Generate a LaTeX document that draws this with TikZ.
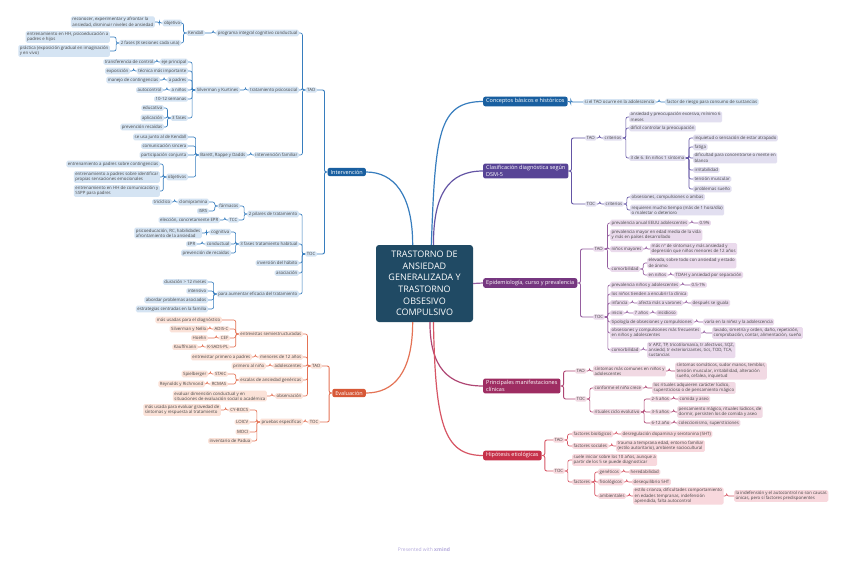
\documentclass[tikz,border=0pt]{standalone}
\usepackage{fontspec}
\setmainfont{Open Sans}
\usepackage{tikz}
\usetikzlibrary{positioning}
\definecolor{rootc}{RGB}{32,74,100}
\definecolor{blueM}{RGB}{25,95,160}
\definecolor{blueL}{RGB}{213,228,243}
\definecolor{blueE}{RGB}{55,125,190}
\definecolor{orgM}{RGB}{215,88,55}
\definecolor{orgL}{RGB}{251,226,216}
\definecolor{orgE}{RGB}{228,115,85}
\definecolor{purM}{RGB}{88,68,150}
\definecolor{purL}{RGB}{226,223,240}
\definecolor{purE}{RGB}{100,85,165}
\definecolor{magM}{RGB}{118,55,128}
\definecolor{magL}{RGB}{234,218,236}
\definecolor{magE}{RGB}{150,95,160}
\definecolor{pinkM}{RGB}{158,45,98}
\definecolor{pinkL}{RGB}{241,217,227}
\definecolor{pinkE}{RGB}{175,70,115}
\definecolor{redM}{RGB}{198,48,72}
\definecolor{redL}{RGB}{248,216,221}
\definecolor{redE}{RGB}{215,85,100}
\definecolor{txtc}{RGB}{70,70,70}
\definecolor{brandc}{RGB}{180,170,220}
\newcommand{\subfnt}{\fontsize{4.35}{5.3}\selectfont}
\newcommand{\topfnt}{\fontsize{5.5}{6.6}\selectfont}
\newcommand{\rootfnt}{\fontsize{9}{11.6}\selectfont}

\begin{document}
\begin{tikzpicture}[
  x=1pt, y=-1pt,
  root/.style={rectangle, rounded corners=3pt, fill=rootc, text=white, font=\rootfnt, align=center, minimum width=97pt, minimum height=77pt, inner sep=0pt},
  topic/.style={rectangle, rounded corners=2pt, fill=#1, text=white, font=\topfnt, align=left, inner xsep=3pt, inner ysep=2pt},
  sub/.style={rectangle, rounded corners=1.5pt, fill=#1, text=txtc, font=\subfnt, align=left, inner xsep=1.5pt, inner ysep=1.1pt},
  bl/.style={sub=blueL, anchor=east},
  ol/.style={sub=orgL, anchor=east},
  br/.style={sub=blueL, anchor=west},
  pr/.style={sub=purL, anchor=west},
  mr/.style={sub=magL, anchor=west},
  kr/.style={sub=pinkL, anchor=west},
  rr/.style={sub=redL, anchor=west},
  lk/.style={draw=#1, line width=0.65pt, rounded corners=2pt},
  mainlk/.style={draw=#1, line width=1.2pt},
  toleft/.style={to path={-- ++(-3,0) |- (\tikztotarget)}},
  toright/.style={to path={-- ++(3,0) |- (\tikztotarget)}}
]
\fill[white] (0,0) rectangle (848,560);
\useasboundingbox (0,0) rectangle (848,560);

% central topic
\node[root] (root) at (424.5,283.5) {TRASTORNO DE\\ANSIEDAD\\GENERALIZADA Y\\TRASTORNO\\OBSESIVO\\COMPULSIVO};

% main topics
\node[topic=blueM, anchor=east] (interv) at (366,172) {Intervención};
\node[topic=orgM, anchor=east] (evalu) at (366,393) {Evaluación};
\node[topic=blueM, anchor=west] (concep) at (483,101.5) {Conceptos básicos e históricos};
\node[topic=purM, anchor=west] (clasi) at (483,171) {Clasificación diagnóstica según\\DSM-5};
\node[topic=magM, anchor=west] (epid) at (483,283) {Epidemiología, curso y prevalencia};
\node[topic=pinkM, anchor=west] (manif) at (483,386) {Principales manifestaciones\\clínicas};
\node[topic=redM, anchor=west] (hipo) at (483,455.5) {Hipótesis etiológicas};

% Intervencion - TAO
\node[bl] (itao) at (317,90) {TAO};
\node[bl] (prog) at (299,33) {programa integral cognitivo conductual};
\node[bl] (kendall) at (205,33) {Kendall};
\node[bl] (kobj) at (182,23) {objetivo};
\node[bl] (kreco) at (155,22) {reconocer, experimentar y afrontar la\\ansiedad, disminuir niveles de ansiedad};
\node[bl] (kfas) at (181,43) {2 fases (8 sesiones cada una)};
\node[bl] (kfas1) at (110,37) {entrenamiento en HH, psicoeducación a\\padres e hijos};
\node[bl] (kfas2) at (110,51) {práctica (exposición gradual en imaginación\\y en vivo)};
\node[bl] (psico) at (299,90) {tratamiento psicosocial};
\node[bl] (silv) at (240,90) {Silverman y Kurtines};
\node[bl] (eje) at (188,62) {eje principal};
\node[bl] (transf) at (155,62) {transferencia de control};
\node[bl] (tecn) at (188,71) {técnica más importante};
\node[bl] (expo) at (130,71) {exposición};
\node[bl] (apad) at (188,80) {a padres};
\node[bl] (manejo) at (160,80) {manejo de contingencias};
\node[bl] (anin) at (188,90) {a niños};
\node[bl] (autoc) at (163,90) {autocontrol};
\node[bl] (sem) at (188,99) {10-12 semanas};
\node[bl] (sfas) at (188,118) {3 fases};
\node[bl] (educ) at (164,108) {educativa};
\node[bl] (aplic) at (164,118) {aplicación};
\node[bl] (prevr) at (164,127) {prevención recaídas};
\node[bl] (famil) at (299,155) {intervención familiar};
\node[bl] (barett) at (247,155) {Barett, Rappe y Dadds};
\node[bl] (junto) at (188,137) {se usa junto al de Kendall};
\node[bl] (comun) at (188,146) {comunicación sincera};
\node[bl] (partic) at (188,155) {participación conjunta};
\node[bl] (bobj) at (188,177) {objetivos};
\node[bl] (bobj1) at (160,164) {entrenamiento a padres sobre contingencias};
\node[bl] (bobj2) at (160,177) {entrenamiento a padres sobre identificar\\propias sensaciones emocionales};
\node[bl] (bobj3) at (160,191) {entrenamiento en HH de comunicación y\\SSPP para padres};

% Intervencion - TOC
\node[bl] (itoc) at (317,254) {TOC};
\node[bl] (pilar) at (299,214) {2 pilares de tratamiento};
\node[bl] (farm) at (240,206) {fármacos};
\node[bl] (clomi) at (209,202) {clomipramina};
\node[bl] (tric) at (172,202) {tricíclico};
\node[bl] (isrs) at (209,211) {ISRS};
\node[bl] (tcc) at (239,220) {TCC};
\node[bl] (elec) at (220,220) {elección, concretamente EPR};
\node[bl] (tfas) at (299,244) {3 fases tratamiento habitual};
\node[bl] (cogn) at (231,232) {cognitiva};
\node[bl] (psied) at (202,233) {psicoeducación, RC, habilidades\\afrontamiento de la ansiedad};
\node[bl] (cond) at (231,244) {conductual};
\node[bl] (epr) at (197,244) {EPR};
\node[bl] (prevd) at (231,253) {prevención de recaídas};
\node[bl] (invh) at (299,263) {inversión del hábito};
\node[bl] (asoc) at (299,273) {asociación};
\node[bl] (aumen) at (299,294) {para aumentar eficacia del tratamiento};
\node[bl] (durac) at (208,282) {duración > 12 meses};
\node[bl] (inten) at (208,291) {intensivo};
\node[bl] (abord) at (208,300) {abordar problemas asociados};
\node[bl] (estra) at (208,309) {estrategias centradas en la familia};

% Evaluacion
\node[ol] (etao) at (322,366) {TAO};
\node[ol] (entre) at (303,334) {entrevistas semiestructuradas};
\node[ol] (musad) at (222,320) {más usadas para el diagnóstico};
\node[ol] (adis) at (230,329) {ADIS-C};
\node[ol] (snello) at (208,329) {Silverman y Nello};
\node[ol] (cef) at (230,338) {CEF};
\node[ol] (hoehn) at (208,338) {Hoehn};
\node[ol] (ksads) at (230,347) {K-SADS-PL};
\node[ol] (kauff) at (198,347) {Kauffmann};
\node[ol] (menor) at (303,357) {menores de 12 años};
\node[ol] (epadr) at (252,357) {entrevistar primero a padres};
\node[ol] (adole) at (303,366) {adolescentes};
\node[ol] (pnino) at (266,366) {primero al niño};
\node[ol] (escal) at (303,380) {escalas de ansiedad genéricas};
\node[ol] (staic) at (228,374) {STAIC};
\node[ol] (spiel) at (208,374) {Spielberger};
\node[ol] (rcmas) at (228,384) {RCMAS};
\node[ol] (reyn) at (205,384) {Reynolds y Richmond};
\node[ol] (obser) at (303,396) {observación};
\node[ol] (edim) at (267,396) {evaluar dimensión conductual y en\\situaciones de evaluación social o académica};
\node[ol] (etoc) at (320,422) {TOC};
\node[ol] (prues) at (303,422) {pruebas específicas};
\node[ol] (cybocs) at (250,410) {CY-BOCS};
\node[ol] (musda) at (221,410) {más usada para evaluar gravedad de\\síntomas y respuesta al tratamiento};
\node[ol] (loicv) at (250,422) {LOICV};
\node[ol] (moci) at (250,432) {MOCI};
\node[ol] (padua) at (252,441) {inventario de Padua};

% Conceptos
\node[br] (cadol) at (583,102) {si el TAO ocurre en la adolescencia};
\node[br] (cries) at (665,102) {factor de riesgo para consumo de sustancias};

% Clasificacion
\node[pr] (ctao) at (585,138) {TAO};
\node[pr] (ccrit) at (603,138) {criterios};
\node[pr] (cans) at (629,117) {ansiedad y preocupación excesiva, mínimo 6\\meses};
\node[pr] (cdif) at (629,128) {difícil controlar la preocupación};
\node[pr] (c36) at (629,158) {3 de 6. En niños 1 síntoma};
\node[pr] (s1) at (693,138) {inquietud o sensación de estar atrapado};
\node[pr] (s2) at (693,147) {fatiga};
\node[pr] (s3) at (693,158) {dificultad para concentrarse o mente en\\blanco};
\node[pr] (s4) at (693,170) {irritabilidad};
\node[pr] (s5) at (693,179) {tensión muscular};
\node[pr] (s6) at (693,189) {problemas sueño};
\node[pr] (ctoc) at (585,204) {TOC};
\node[pr] (ccrit2) at (604,204) {criterios};
\node[pr] (cobs) at (630,197) {obsesiones, compulsiones o ambas};
\node[pr] (creq) at (630,210) {requieren mucho tiempo (más de 1 hora/día)\\o malestar o deterioro};

% Epidemiologia
\node[mr] (ptao) at (593,249) {TAO};
\node[mr] (panual) at (610,223) {prevalencia anual EEUU adolescentes};
\node[mr] (p09) at (698,223) {0.9\%};
\node[mr] (pmayor) at (610,235) {prevalencia mayor en edad media de la vida\\y más en países desarrollado};
\node[mr] (pnmay) at (610,249) {niños mayores};
\node[mr] (pmasn) at (650,249) {más nº de síntomas y más ansiedad y\\depresión que niños menores de 12 años};
\node[mr] (pcomo) at (610,269) {comorbilidad};
\node[mr] (pelev) at (647,263) {elevada, sobre todo con ansiedad y estado\\de ánimo};
\node[mr] (penn) at (647,275) {en niños};
\node[mr] (ptdah) at (674,275) {TDAH y ansiedad por separación};
\node[mr] (ptoc) at (593,317) {TOC};
\node[mr] (qprev) at (610,285) {prevalencia niños y adolescentes};
\node[mr] (q051) at (690,285) {0.5-1\%};
\node[mr] (qencu) at (610,294) {los niños tienden a encubrir la clínica};
\node[mr] (qinf) at (610,303) {infancia};
\node[mr] (qvar) at (637,303) {afecta más a varones};
\node[mr] (qigu) at (691,303) {después se iguala};
\node[mr] (qini) at (610,313) {inicio};
\node[mr] (q7) at (633,313) {7 años};
\node[mr] (qins) at (656,313) {insidioso};
\node[mr] (qtipo) at (610,322) {tipología de obsesiones y compulsiones};
\node[mr] (qvaria) at (703,322) {varía en la niñez y la adolescencia};
\node[mr] (qobs) at (610,333) {obsesiones y compulsiones más frecuentes\\en niños y adolescentes};
\node[mr] (qlav) at (712,333) {lavado, simetría y orden, daño, repetición,\\comprobación, contar, alimentación, sueño};
\node[mr] (qcomo) at (610,350) {comorbilidad};
\node[mr] (qtr) at (647,350) {tr APZ, TP, tricotilomanía, tr afectivos, SQZ,\\ansiedd, tr exteriorizantes, tics, TOD, TCA,\\sustancias};

% Principales manifestaciones
\node[kr] (mtao) at (575,371) {TAO};
\node[kr] (msint) at (593,371) {síntomas más comunes en niños y\\adolescentes};
\node[kr] (msoma) at (675,371) {síntomas somáticos, sudor manos, temblor,\\tensión muscular, irritabilidad, alteración\\sueño, cefalea, inquietud};
\node[kr] (mtoc) at (575,399) {TOC};
\node[kr] (mcrec) at (593,388) {conforme el niño crece};
\node[kr] (mludi) at (652,388) {los rituales adquieren carácter lúdico,\\supersticioso o de pensamiento mágico};
\node[kr] (mritu) at (593,412) {rituales ciclo evolutivo};
\node[kr] (m25) at (650,399) {2-5 años};
\node[kr] (mcomi) at (678,399) {comida y aseo};
\node[kr] (m35) at (650,412) {3-5 años};
\node[kr] (mpens) at (677,412) {pensamiento mágico, rituales lúdicos, de\\dormir, persisten los de comida y aseo};
\node[kr] (m612) at (650,423) {6-12 año};
\node[kr] (mcole) at (677,423) {coleccionismo, supersticiones};

% Hipotesis
\node[rr] (htao) at (553,440) {TAO};
\node[rr] (hbio) at (572,434) {factores biológicos};
\node[rr] (hdesr) at (621,434) {desregulación dopamina y serotonina (5HT)};
\node[rr] (hsoc) at (572,446) {factores sociales};
\node[rr] (htrau) at (616,446) {trauma a temprana edad, entorno familiar\\(estilo autoritario), ambiente sociocultural};
\node[rr] (htoc) at (553,471) {TOC};
\node[rr] (hsuel) at (572,460) {suele iniciar sobre los 10 años, aunque a\\partir de los 5 se puede diagnosticar};
\node[rr] (hfact) at (572,482) {factores};
\node[rr] (hgen) at (598,472) {genéticos};
\node[rr] (hhere) at (629,472) {heredabilidad};
\node[rr] (hfis) at (598,482) {fisiológicos};
\node[rr] (hdese) at (632,482) {desequilibrio 5HT};
\node[rr] (hamb) at (598,496) {ambientales};
\node[rr] (hest) at (633,496) {estilo crianza, dificultades comportamiento\\en edades tempranas, indefensión\\aprendida, falta autocontrol};
\node[rr] (hinde) at (734,496) {la indefensión y el autocontrol no son causas\\únicas, pero sí factores predisponentes};

\node[font=\fontsize{5}{6}\selectfont, text=brandc] (brand) at (424,550) {Presented with \textbf{xmind}};

% branches from the central topic
\draw[mainlk=blueE] (root.107) .. controls +(0,-50) and +(28,0) .. (interv.east);
\draw[mainlk=orgE] (root.253) .. controls +(0,50) and +(28,0) .. (evalu.east);
\draw[mainlk=blueE] (root.80) .. controls +(4,-110) and +(-45,0) .. (concep.west);
\draw[mainlk=purE] (root.77) .. controls +(0,-50) and +(-35,0) .. (clasi.west);
\draw[mainlk=magE] (root.east) -- (epid.west);
\draw[mainlk=pinkE] (root.278) .. controls +(0,45) and +(-35,0) .. (manif.west);
\draw[mainlk=redE] (root.283) .. controls +(2,100) and +(-40,0) .. (hipo.west);

% Intervencion links
\draw[lk=blueE, line width=0.9pt] (interv.west) to[toleft] (itao.east);
\draw[lk=blueE, line width=0.9pt] (interv.west) to[toleft] (itoc.east);
\foreach \c in {prog,psico,famil} \draw[lk=blueE] (itao.west) to[toleft] (\c.east);
\draw[lk=blueE] (prog.west) to[toleft] (kendall.east);
\foreach \c in {kobj,kfas} \draw[lk=blueE] (kendall.west) to[toleft] (\c.east);
\draw[lk=blueE] (kobj.west) to[toleft] (kreco.east);
\foreach \c in {kfas1,kfas2} \draw[lk=blueE] (kfas.west) to[toleft] (\c.east);
\draw[lk=blueE] (psico.west) to[toleft] (silv.east);
\foreach \c in {eje,tecn,apad,anin,sem,sfas} \draw[lk=blueE] (silv.west) to[toleft] (\c.east);
\draw[lk=blueE] (eje.west) to[toleft] (transf.east);
\draw[lk=blueE] (tecn.west) to[toleft] (expo.east);
\draw[lk=blueE] (apad.west) to[toleft] (manejo.east);
\draw[lk=blueE] (anin.west) to[toleft] (autoc.east);
\foreach \c in {educ,aplic,prevr} \draw[lk=blueE] (sfas.west) to[toleft] (\c.east);
\draw[lk=blueE] (famil.west) to[toleft] (barett.east);
\foreach \c in {junto,comun,partic,bobj} \draw[lk=blueE] (barett.west) to[toleft] (\c.east);
\foreach \c in {bobj1,bobj2,bobj3} \draw[lk=blueE] (bobj.west) to[toleft] (\c.east);
\foreach \c in {pilar,tfas,invh,asoc,aumen} \draw[lk=blueE] (itoc.west) to[toleft] (\c.east);
\foreach \c in {farm,tcc} \draw[lk=blueE] (pilar.west) to[toleft] (\c.east);
\foreach \c in {clomi,isrs} \draw[lk=blueE] (farm.west) to[toleft] (\c.east);
\draw[lk=blueE] (clomi.west) to[toleft] (tric.east);
\draw[lk=blueE] (tcc.west) to[toleft] (elec.east);
\foreach \c in {cogn,cond,prevd} \draw[lk=blueE] (tfas.west) to[toleft] (\c.east);
\draw[lk=blueE] (cogn.west) to[toleft] (psied.east);
\draw[lk=blueE] (cond.west) to[toleft] (epr.east);
\foreach \c in {durac,inten,abord,estra} \draw[lk=blueE] (aumen.west) to[toleft] (\c.east);

% Evaluacion links
\draw[lk=orgE, line width=0.9pt] (evalu.west) to[toleft] (etao.east);
\draw[lk=orgE, line width=0.9pt] (evalu.west) to[toleft] (etoc.east);
\foreach \c in {entre,menor,adole,escal,obser} \draw[lk=orgE] (etao.west) to[toleft] (\c.east);
\foreach \c in {musad,adis,cef,ksads} \draw[lk=orgE] (entre.west) to[toleft] (\c.east);
\draw[lk=orgE] (adis.west) to[toleft] (snello.east);
\draw[lk=orgE] (cef.west) to[toleft] (hoehn.east);
\draw[lk=orgE] (ksads.west) to[toleft] (kauff.east);
\draw[lk=orgE] (menor.west) to[toleft] (epadr.east);
\draw[lk=orgE] (adole.west) to[toleft] (pnino.east);
\foreach \c in {staic,rcmas} \draw[lk=orgE] (escal.west) to[toleft] (\c.east);
\draw[lk=orgE] (staic.west) to[toleft] (spiel.east);
\draw[lk=orgE] (rcmas.west) to[toleft] (reyn.east);
\draw[lk=orgE] (obser.west) to[toleft] (edim.east);
\draw[lk=orgE] (etoc.west) to[toleft] (prues.east);
\foreach \c in {cybocs,loicv,moci,padua} \draw[lk=orgE] (prues.west) to[toleft] (\c.east);
\draw[lk=orgE] (cybocs.west) to[toleft] (musda.east);

% Conceptos links
\draw[lk=blueE, line width=0.9pt] (concep.east) to[toright] (cadol.west);
\draw[lk=blueE] (cadol.east) to[toright] (cries.west);

% Clasificacion links
\draw[lk=purE, line width=0.9pt] (clasi.east) to[toright] (ctao.west);
\draw[lk=purE, line width=0.9pt] (clasi.east) to[toright] (ctoc.west);
\draw[lk=purE] (ctao.east) to[toright] (ccrit.west);
\foreach \c in {cans,cdif,c36} \draw[lk=purE] (ccrit.east) to[toright] (\c.west);
\foreach \c in {s1,s2,s3,s4,s5,s6} \draw[lk=purE] (c36.east) to[toright] (\c.west);
\draw[lk=purE] (ctoc.east) to[toright] (ccrit2.west);
\foreach \c in {cobs,creq} \draw[lk=purE] (ccrit2.east) to[toright] (\c.west);

% Epidemiologia links
\draw[lk=magE, line width=0.9pt] (epid.east) to[toright] (ptao.west);
\draw[lk=magE, line width=0.9pt] (epid.east) to[toright] (ptoc.west);
\foreach \c in {panual,pmayor,pnmay,pcomo} \draw[lk=magE] (ptao.east) to[toright] (\c.west);
\draw[lk=magE] (panual.east) to[toright] (p09.west);
\draw[lk=magE] (pnmay.east) to[toright] (pmasn.west);
\foreach \c in {pelev,penn} \draw[lk=magE] (pcomo.east) to[toright] (\c.west);
\draw[lk=magE] (penn.east) to[toright] (ptdah.west);
\foreach \c in {qprev,qencu,qinf,qini,qtipo,qobs,qcomo} \draw[lk=magE] (ptoc.east) to[toright] (\c.west);
\draw[lk=magE] (qprev.east) to[toright] (q051.west);
\draw[lk=magE] (qinf.east) to[toright] (qvar.west);
\draw[lk=magE] (qvar.east) to[toright] (qigu.west);
\draw[lk=magE] (qini.east) to[toright] (q7.west);
\draw[lk=magE] (q7.east) to[toright] (qins.west);
\draw[lk=magE] (qtipo.east) to[toright] (qvaria.west);
\draw[lk=magE] (qobs.east) to[toright] (qlav.west);
\draw[lk=magE] (qcomo.east) to[toright] (qtr.west);

% Principales manifestaciones links
\draw[lk=pinkE, line width=0.9pt] (manif.east) to[toright] (mtao.west);
\draw[lk=pinkE, line width=0.9pt] (manif.east) to[toright] (mtoc.west);
\draw[lk=pinkE] (mtao.east) to[toright] (msint.west);
\draw[lk=pinkE] (msint.east) to[toright] (msoma.west);
\foreach \c in {mcrec,mritu} \draw[lk=pinkE] (mtoc.east) to[toright] (\c.west);
\draw[lk=pinkE] (mcrec.east) to[toright] (mludi.west);
\foreach \c in {m25,m35,m612} \draw[lk=pinkE] (mritu.east) to[toright] (\c.west);
\draw[lk=pinkE] (m25.east) to[toright] (mcomi.west);
\draw[lk=pinkE] (m35.east) to[toright] (mpens.west);
\draw[lk=pinkE] (m612.east) to[toright] (mcole.west);

% Hipotesis links
\draw[lk=redE, line width=0.9pt] (hipo.east) to[toright] (htao.west);
\draw[lk=redE, line width=0.9pt] (hipo.east) to[toright] (htoc.west);
\foreach \c in {hbio,hsoc} \draw[lk=redE] (htao.east) to[toright] (\c.west);
\draw[lk=redE] (hbio.east) to[toright] (hdesr.west);
\draw[lk=redE] (hsoc.east) to[toright] (htrau.west);
\foreach \c in {hsuel,hfact} \draw[lk=redE] (htoc.east) to[toright] (\c.west);
\foreach \c in {hgen,hfis,hamb} \draw[lk=redE] (hfact.east) to[toright] (\c.west);
\draw[lk=redE] (hgen.east) to[toright] (hhere.west);
\draw[lk=redE] (hfis.east) to[toright] (hdese.west);
\draw[lk=redE] (hamb.east) to[toright] (hest.west);
\draw[lk=redE] (hest.east) to[toright] (hinde.west);

\end{tikzpicture}
\end{document}
